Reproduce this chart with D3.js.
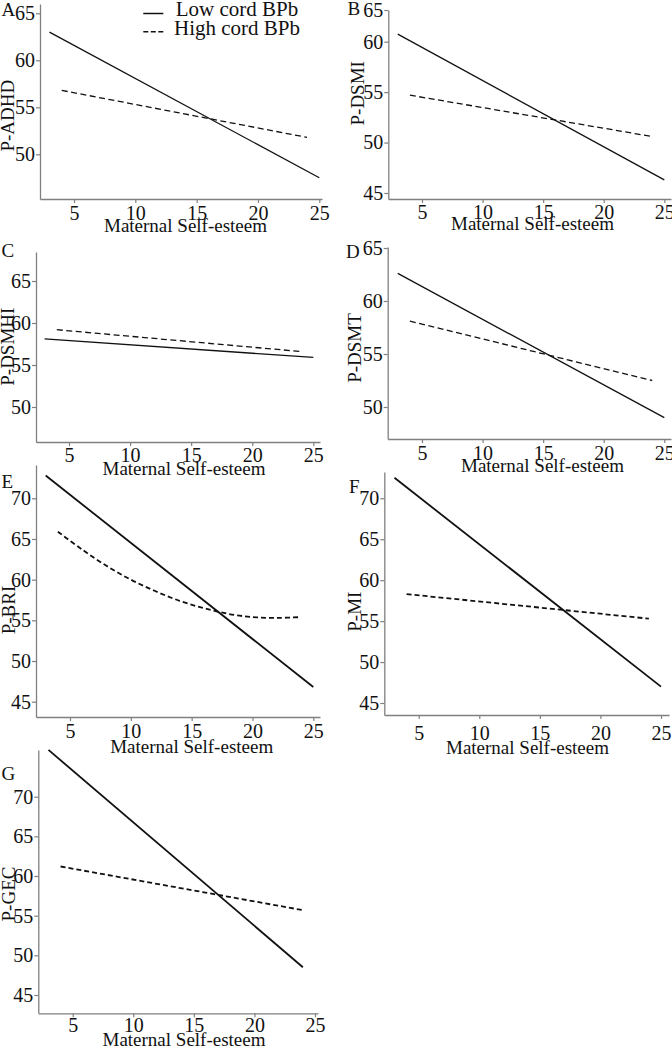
<!DOCTYPE html>
<html><head><meta charset="utf-8">
<script src="https://cdn.jsdelivr.net/npm/d3@7"></script>
<style>
html,body{margin:0;padding:0;background:#fff;}
svg{display:block;font-family:"Liberation Serif","Times New Roman",serif;}
</style></head><body>
<svg id="chart" width="672" height="1047"></svg>
<script>
// ---------- data ----------
const panelIds = ["A","B","C","D","E","F","G"];
const yTitles = ["P-ADHD","P-DSMI","P-DSMHI","P-DSMT","P-BRI","P-MI","P-GEC"];
const xTitle = "Maternal Self-esteem";
const legendLabels = ["Low cord BPb","High cord BPb"];
const xTicks = [5,10,15,20,25];
const yTicksA = [50,55,60,65];
const yTicksB = [45,50,55,60,65];
const yTicksC = [50,55,60,65];
const yTicksD = [50,55,60,65];
const yTicksE = [45,50,55,60,65,70];
const yTicksF = [45,50,55,60,65,70];
const yTicksG = [45,50,55,60,65,70];

// Low cord BPb (solid) and High cord BPb (dashed), x = maternal self-esteem
const lowXA = [3,25],  lowA = [63.0,47.5];
const highXA = [4,24], highA = [56.8,51.8];
const lowXB = [3,25],  lowB = [61.2,46.3];
const highXB = [4,24], highB = [54.7,50.6];
const lowXC = [3,25],  lowC = [58.1,55.9];
const highXC = [4,24], highC = [59.2,56.6];
const lowXD = [3,25],  lowD = [62.6,49.0];
const highXD = [4,24], highD = [58.1,52.5];
const lowXE = [3,25],  lowE = [72.8,46.8];
const highXE = [4,6,8,10,12,14,16,18,20,22,24];
const highE  = [65.9,63.7,61.7,60.0,58.6,57.4,56.5,55.8,55.4,55.3,55.4];
const lowXF = [3,25],  lowF = [72.5,47.0];
const highXF = [4,24], highF = [58.3,55.3];
const lowXG = [3,24],  lowG = [75.9,48.5];
const highXG = [4,24], highG = [61.2,55.7];

// ---------- layout ----------
const FONT = '"Liberation Serif","Times New Roman",serif';
const AXIS_COLOR = "#808080";
const INK = "#111";
const layout = [
  {yTicks:yTicksA, lowX:lowXA, low:lowA, highX:highXA, high:highA,
   axX:40, top:4, bottom:199, yFit:{d:[50,65], r:[154.3,13.3]},
   x5:74, x25:319.3, xRight:322, xTickBase:21, titleX:185.5, titleBase:231.7,
   yTitleX:13.5, yTitleY:115.7, letterX:1.5, letterBase:16, lw:1.3, dash:"6,3.5"},
  {yTicks:yTicksB, lowX:lowXB, low:lowB, highX:highXB, high:highB,
   axX:388.3, top:9, bottom:199, yPiece:{d:[44.4,45,60,65], r:[199,193,41.7,10]},
   x5:422, x25:664.3, xRight:671, xTickBase:19.5, titleX:532.5, titleBase:230,
   yTitleX:364, yTitleY:93.3, letterX:347.5, letterBase:15, lw:1.3, dash:"6,3.5"},
  {yTicks:yTicksC, lowX:lowXC, low:lowC, highX:highXC, high:highC,
   axX:36, top:252, bottom:442, yFit:{d:[50,65], r:[407,281]},
   x5:69, x25:313.3, xRight:320, xTickBase:20, titleX:184, titleBase:475,
   yTitleX:13.5, yTitleY:346.7, letterX:1.5, letterBase:256.7, lw:1.3, dash:"6,3.5"},
  {yTicks:yTicksD, lowX:lowXD, low:lowD, highX:highXD, high:highD,
   axX:387.7, top:247, bottom:439, yFit:{d:[50,65], r:[407,248]},
   x5:422, x25:664.3, xRight:671, xTickBase:21, titleX:542.5, titleBase:472.3,
   yTitleX:361, yTitleY:348, letterX:346, letterBase:258, lw:1.3, dash:"6,3.5"},
  {yTicks:yTicksE, lowX:lowXE, low:lowE, highX:highXE, high:highE, curve:true,
   axX:36, top:465, bottom:717, yFit:{d:[45,70], r:[701.7,498.3]},
   x5:70, x25:313.3, xRight:320, xTickBase:21.3, titleX:191.7, titleBase:752.7,
   yTitleX:15, yTitleY:610, letterX:1.5, letterBase:488, lw:1.8, dash:"5,3"},
  {yTicks:yTicksF, lowX:lowXF, low:lowF, highX:highXF, high:highF,
   axX:384.3, top:472, bottom:715, yFit:{d:[45,70], r:[703,498.3]},
   x5:418.7, x25:661, xRight:669, xTickBase:25, titleX:527.5, titleBase:754,
   yTitleX:361, yTitleY:611.7, letterX:349, letterBase:493, lw:1.8, dash:"5,3"},
  {yTicks:yTicksG, lowX:lowXG, low:lowG, highX:highXG, high:highG,
   axX:38.3, top:750, bottom:1013.3, yFit:{d:[45,70], r:[995,796.7]},
   x5:72.7, x25:315, xRight:318, xTickBase:18.5, titleX:184, titleBase:1046,
   yTitleX:15, yTitleY:894, letterX:1.5, letterBase:780, lw:1.8, dash:"5,3"}
];

const svg = d3.select("#chart");

function styleAxis(sel){
  sel.attr("font-family", FONT).attr("font-size", 20);
  sel.select(".domain").attr("stroke", AXIS_COLOR).attr("stroke-width", 1.3);
  sel.selectAll(".tick line").attr("stroke", AXIS_COLOR).attr("stroke-width", 1.2);
  sel.selectAll(".tick text").attr("fill", INK);
}

layout.forEach((cfg, i) => {
  const g = svg.append("g");
  let y;
  if (cfg.yPiece) {
    y = d3.scaleLinear().domain(cfg.yPiece.d).range(cfg.yPiece.r);
  } else {
    const fit = d3.scaleLinear().domain(cfg.yFit.d).range(cfg.yFit.r);
    y = d3.scaleLinear().domain([fit.invert(cfg.bottom), fit.invert(cfg.top)]).range([cfg.bottom, cfg.top]);
  }
  const fitX = d3.scaleLinear().domain([5,25]).range([cfg.x5, cfg.x25]);
  const x = d3.scaleLinear().domain([fitX.invert(cfg.axX), fitX.invert(cfg.xRight)]).range([cfg.axX, cfg.xRight]);

  // y axis
  const ya = g.append("g").attr("transform", `translate(${cfg.axX},0)`)
    .call(d3.axisLeft(y).tickValues(cfg.yTicks).tickSize(4).tickPadding(1).tickSizeOuter(0));
  styleAxis(ya);

  // x axis
  const xa = g.append("g").attr("transform", `translate(0,${cfg.bottom})`)
    .call(d3.axisBottom(x).tickValues(xTicks).tickSize(4).tickSizeOuter(0));
  styleAxis(xa);
  xa.selectAll(".tick text").attr("y", cfg.xTickBase).attr("dy", 0);

  // lines
  const line = d3.line().x(d => x(d[0])).y(d => y(d[1]));
  g.append("path").datum(d3.zip(cfg.lowX, cfg.low))
    .attr("d", line).attr("fill","none").attr("stroke", INK).attr("stroke-width", cfg.lw);
  const lineH = d3.line().x(d => x(d[0])).y(d => y(d[1]))
    .curve(cfg.curve ? d3.curveCatmullRom : d3.curveLinear);
  g.append("path").datum(d3.zip(cfg.highX, cfg.high))
    .attr("d", lineH).attr("fill","none").attr("stroke", INK)
    .attr("stroke-width", cfg.lw).attr("stroke-dasharray", cfg.dash);

  // x title
  g.append("text").attr("x", cfg.titleX).attr("y", cfg.titleBase)
    .attr("text-anchor","middle").attr("font-size",19).attr("fill",INK).text(xTitle);
  // y title
  g.append("text").attr("transform", `translate(${cfg.yTitleX},${cfg.yTitleY}) rotate(-90)`)
    .attr("text-anchor","middle").attr("font-size",19).attr("fill",INK).text(yTitles[i]);
  // panel letter
  g.append("text").attr("x", cfg.letterX).attr("y", cfg.letterBase)
    .attr("font-size",19).attr("fill",INK).text(panelIds[i]);
});

// legend (panel A)
const leg = svg.append("g");
const legRows = [{y:13.5, base:16, dash:null, x0:143.3, tx:175.7},
                 {y:31.7, base:35, dash:"5,2.5", x0:143.3, tx:174}];
legendLabels.forEach((lab, k) => {
  const r = legRows[k];
  leg.append("line").attr("x1", r.x0).attr("x2", r.x0 + 20).attr("y1", r.y).attr("y2", r.y)
    .attr("stroke", INK).attr("stroke-width", 1.5).attr("stroke-dasharray", r.dash);
  leg.append("text").attr("x", r.tx).attr("y", r.base).attr("font-size", 21)
    .attr("fill", INK).text(lab);
});
</script>
</body></html>
